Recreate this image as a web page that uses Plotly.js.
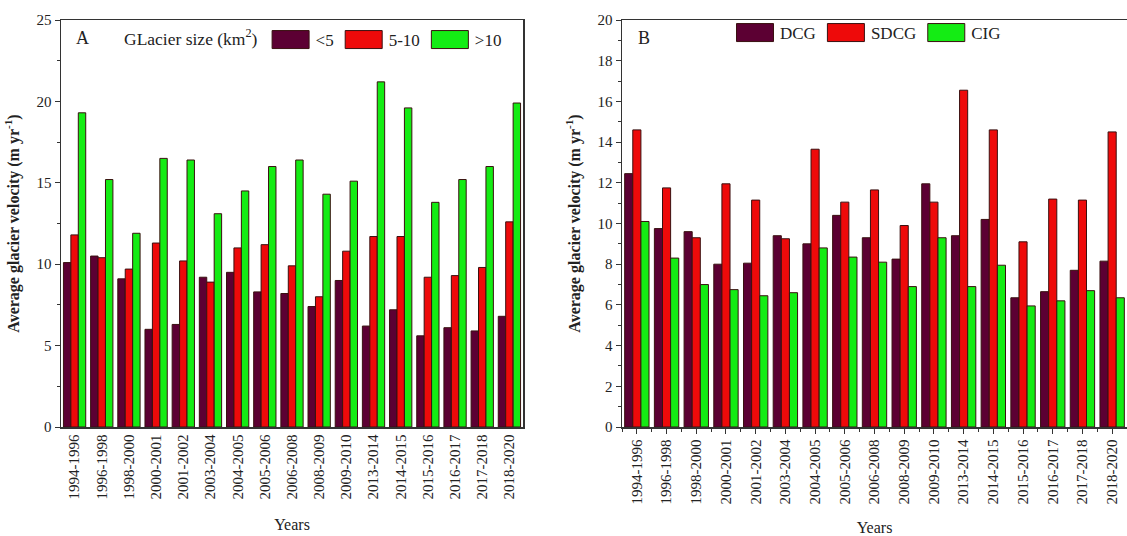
<!DOCTYPE html>
<html>
<head>
<meta charset="utf-8">
<script src="https://cdn.plot.ly/plotly-3.0.1.min.js"></script>
<style>html,body{margin:0;padding:0;background:#fff}#chart{width:1127px;height:536px}</style>
</head>
<body>
<div id="chart"></div>
<script>
const periods = ["1994-1996","1996-1998","1998-2000","2000-2001","2001-2002","2003-2004","2004-2005","2005-2006","2006-2008","2008-2009","2009-2010","2013-2014","2014-2015","2015-2016","2016-2017","2017-2018","2018-2020"];

// Panel A: glacier size classes
const sizeLt5   = [10.1,10.5,9.1,6.0,6.3,9.2,9.5,8.3,8.2,7.4,9.0,6.2,7.2,5.6,6.1,5.9,6.8];
const size5to10 = [11.8,10.4,9.7,11.3,10.2,8.9,11.0,11.2,9.9,8.0,10.8,11.7,11.7,9.2,9.3,9.8,12.6];
const sizeGt10  = [19.3,15.2,11.9,16.5,16.4,13.1,14.5,16.0,16.4,14.3,15.1,21.2,19.6,13.8,15.2,16.0,19.9];

// Panel B: glacier types
const dcg  = [12.45,9.75,9.6,8.0,8.05,9.4,9.0,10.4,9.3,8.25,11.95,9.4,10.2,6.35,6.65,7.7,8.15];
const sdcg = [14.6,11.75,9.3,11.95,11.15,9.25,13.65,11.05,11.65,9.9,11.05,16.55,14.6,9.1,11.2,11.15,14.5];
const cig  = [10.1,8.3,7.0,6.75,6.45,6.6,8.8,8.35,8.1,6.9,9.3,6.9,7.95,5.95,6.2,6.7,6.35];

const xpos = periods.map((p, i) => i);

const cMaroon = "#5c0033", cRed = "#ee0a0a", cGreen = "#14ec14";
const line = {color: "#3a1010", width: 1};
const FF = "Liberation Serif";

const traces = [
  {type:"bar", name:"<5", x:xpos, y:sizeLt5, marker:{color:cMaroon, line:line}, xaxis:"x", yaxis:"y", legend:"legend"},
  {type:"bar", name:"5-10", x:xpos, y:size5to10, marker:{color:cRed, line:line}, xaxis:"x", yaxis:"y", legend:"legend"},
  {type:"bar", name:">10", x:xpos, y:sizeGt10, marker:{color:cGreen, line:line}, xaxis:"x", yaxis:"y", legend:"legend"},
  {type:"bar", name:"DCG", x:xpos, y:dcg, marker:{color:cMaroon, line:line}, xaxis:"x2", yaxis:"y2", legend:"legend2"},
  {type:"bar", name:"SDCG", x:xpos, y:sdcg, marker:{color:cRed, line:line}, xaxis:"x2", yaxis:"y2", legend:"legend2"},
  {type:"bar", name:"CIG", x:xpos, y:cig, marker:{color:cGreen, line:line}, xaxis:"x2", yaxis:"y2", legend:"legend2"}
];

const ydom = [1-427/536, 1-20/536];

function xaxisCfg(dom, anchor, withTicks){
  const cfg = {domain:dom, anchor:anchor, range:[-0.5,16.5], type:"linear",
    tickmode:"array", tickvals:xpos, ticktext:periods,
    showline:true, linecolor:"#333", linewidth:1.5, mirror:true,
    ticks: withTicks ? "outside" : "", ticklen:5, tickcolor:"#333", tickangle:-90,
    tickfont:{family:FF, size:15, color:"#222"},
    title:{text:"Years", font:{family:FF, size:16, color:"#222"}, standoff:20},
    automargin:false, showgrid:false, zeroline:false};
  if (withTicks) cfg.minor = {ticks:"outside", ticklen:3, tickmode:"linear", tick0:-0.5, dtick:1, tickcolor:"#333"};
  return cfg;
}
function yaxisCfg(anchor, rng, dtick, minorDtick){
  return {domain:ydom, anchor:anchor, range:rng, dtick:dtick,
    showline:true, linecolor:"#333", linewidth:1.5, mirror:true,
    ticks:"outside", ticklen:5, tickcolor:"#333",
    minor:{ticks:"outside", ticklen:3, dtick:minorDtick, tickcolor:"#333"},
    tickfont:{family:FF, size:15, color:"#222"},
    title:{text:"<b>Average glacier velocity (m yr<sup>-1</sup>)</b>", font:{family:FF, size:16, color:"#222"}},
    automargin:false, showgrid:false, zeroline:false};
}

const layout = {
  width:1127, height:536,
  margin:{l:0, r:0, t:0, b:0},
  paper_bgcolor:"#fff", plot_bgcolor:"#fff",
  font:{family:FF, size:15, color:"#222"},
  barmode:"group", bargap:0.18, bargroupgap:0,
  xaxis: xaxisCfg([61/1127, 523/1127], "y", false),
  yaxis: yaxisCfg("x", [0,25], 5, 2.5),
  xaxis2: xaxisCfg([622/1127, 1], "y2", true),
  yaxis2: yaxisCfg("x2", [0,20], 2, 1),
  legend:{orientation:"h", x:122/1127, y:1-22/536, xanchor:"left", yanchor:"top",
    bgcolor:"rgba(0,0,0,0)", font:{family:FF, size:17, color:"#222"},
    title:{text:"GLacier size (km<sup>2</sup>)", side:"left", font:{family:FF, size:17.5, color:"#222"}},
    itemwidth:40, traceorder:"normal"},
  legend2:{orientation:"h", x:730/1127, y:1-15/536, xanchor:"left", yanchor:"top",
    bgcolor:"rgba(0,0,0,0)", font:{family:FF, size:17, color:"#222"},
    itemwidth:40, traceorder:"normal"},
  annotations:[
    {text:"A", xref:"paper", yref:"paper", x:74/1127, y:1-38/536, xanchor:"left", yanchor:"middle", showarrow:false, font:{family:FF, size:18, color:"#222"}},
    {text:"B", xref:"paper", yref:"paper", x:636/1127, y:1-38/536, xanchor:"left", yanchor:"middle", showarrow:false, font:{family:FF, size:18, color:"#222"}}
  ]
};

Plotly.newPlot("chart", traces, layout, {staticPlot:true, displayModeBar:false}).then(function(gd){
  // widen the legend swatches to match the reference's long rectangles
  gd.querySelectorAll(".legendpoints path").forEach(function(p){
    p.setAttribute("d", "M18.5,9H-18.5V-9H18.5Z");
  });
});
</script>
</body>
</html>
